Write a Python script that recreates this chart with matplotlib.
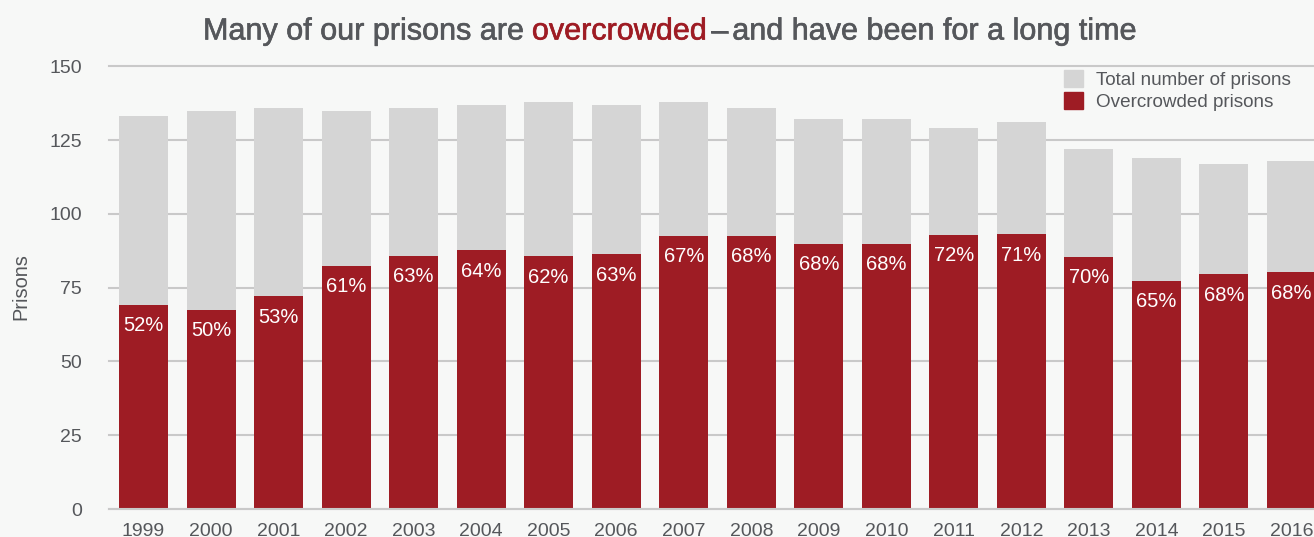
import matplotlib.pyplot as plt
import matplotlib.patheffects as pe
from matplotlib.patches import Patch
import numpy as np

# Prisons per year: total count and share that is overcrowded
years = ['1999', '2000', '2001', '2002', '2003', '2004', '2005', '2006', '2007',
         '2008', '2009', '2010', '2011', '2012', '2013', '2014', '2015', '2016']
total_prisons = [133, 135, 136, 135, 136, 137, 138, 137, 138,
                 136, 132, 132, 129, 131, 122, 119, 117, 118]
overcrowded_pct = [52, 50, 53, 61, 63, 64, 62, 63, 67,
                   68, 68, 68, 72, 71, 70, 65, 68, 68]
y_ticks = [0, 25, 50, 75, 100, 125, 150]

overcrowded = [t * p / 100 for t, p in zip(total_prisons, overcrowded_pct)]

BG = '#f7f8f7'
GREY_BAR = '#d5d5d5'
RED = '#9e1c24'
TEXT = '#55575b'
GRID = '#c9c9c9'

plt.rcParams['font.family'] = ['Liberation Sans', 'DejaVu Sans']

W, H = 1314, 537
fig = plt.figure(figsize=(W / 100, H / 100), dpi=100, facecolor=BG)
ax = fig.add_axes([109 / W, (H - 509) / H, (W - 109) / W, (509 - 66.3) / H])
ax.set_facecolor(BG)

x = np.arange(len(years))
ax.bar(x, total_prisons, width=0.726, color=GREY_BAR, zorder=1)
ax.bar(x, overcrowded, width=0.726, color=RED, zorder=1)

for xi, h, p in zip(x, overcrowded, overcrowded_pct):
    ax.annotate(f'{p}%', (xi, h), xytext=(0, -15), textcoords='offset points',
                ha='center', va='center', color='white', fontsize=14.5, zorder=3)

ax.set_xlim(-0.511, 17.333)
ax.set_ylim(0, 150)
ax.set_yticks(y_ticks)
ax.set_xticks(x)
ax.set_xticklabels(years)
ax.tick_params(axis='both', length=0, colors=TEXT, labelsize=14)
ax.tick_params(axis='y', pad=19.4)
ax.tick_params(axis='x', pad=10)

ax.yaxis.grid(True, color=GRID, linewidth=1.5, zorder=0)
ax.set_axisbelow(True)
for gl in ax.get_ygridlines():
    gl.set_clip_on(False)
for side in ['top', 'right', 'left']:
    ax.spines[side].set_visible(False)
ax.spines['bottom'].set_color(GRID)
ax.spines['bottom'].set_linewidth(1.5)

fig.text(20.8 / W, 1 - 286.7 / H, 'Prisons', rotation=90, ha='center', va='center',
         color=TEXT, fontsize=14.4)

handles = [Patch(color=GREY_BAR, label='Total number of prisons'),
           Patch(color=RED, label='Overcrowded prisons')]
ax.legend(handles=handles, loc='upper left', bbox_to_anchor=(1064 / W, 1 - 70 / H),
          bbox_transform=fig.transFigure, frameon=False, borderpad=0, borderaxespad=0,
          handlelength=1.0, handleheight=1.0, handletextpad=0.7, labelspacing=0.17,
          fontsize=13.6, labelcolor=TEXT)

# Title drawn piece by piece so the key word can be coloured
renderer = fig.canvas.get_renderer()
heavy = [pe.withStroke(linewidth=0.45, foreground=TEXT)]
heavy_red = [pe.withStroke(linewidth=0.45, foreground=RED)]
title_kw = dict(fontsize=22, va='baseline', ha='left')
title_y = 1 - 39.5 / H


def text_width(s):
    t = fig.text(0, 0, s, **title_kw)
    w = t.get_window_extent(renderer=renderer).width
    t.remove()
    return w


pieces = [('Many of our prisons are ', TEXT, heavy, 0),
          ('overcrowded', RED, heavy_red, 5),
          ('\u2013', TEXT, heavy, 4),
          ('and have been for a long time', TEXT, heavy, 0)]
cursor = 203
for s, c, fx, gap in pieces:
    fig.text(cursor / W, title_y, s, color=c, path_effects=fx, **title_kw)
    # advance by the piece's width measured against a following letter
    cursor += text_width(s + 'x') - text_width('x') + gap

fig.savefig('out.png', dpi=100, facecolor=BG)
